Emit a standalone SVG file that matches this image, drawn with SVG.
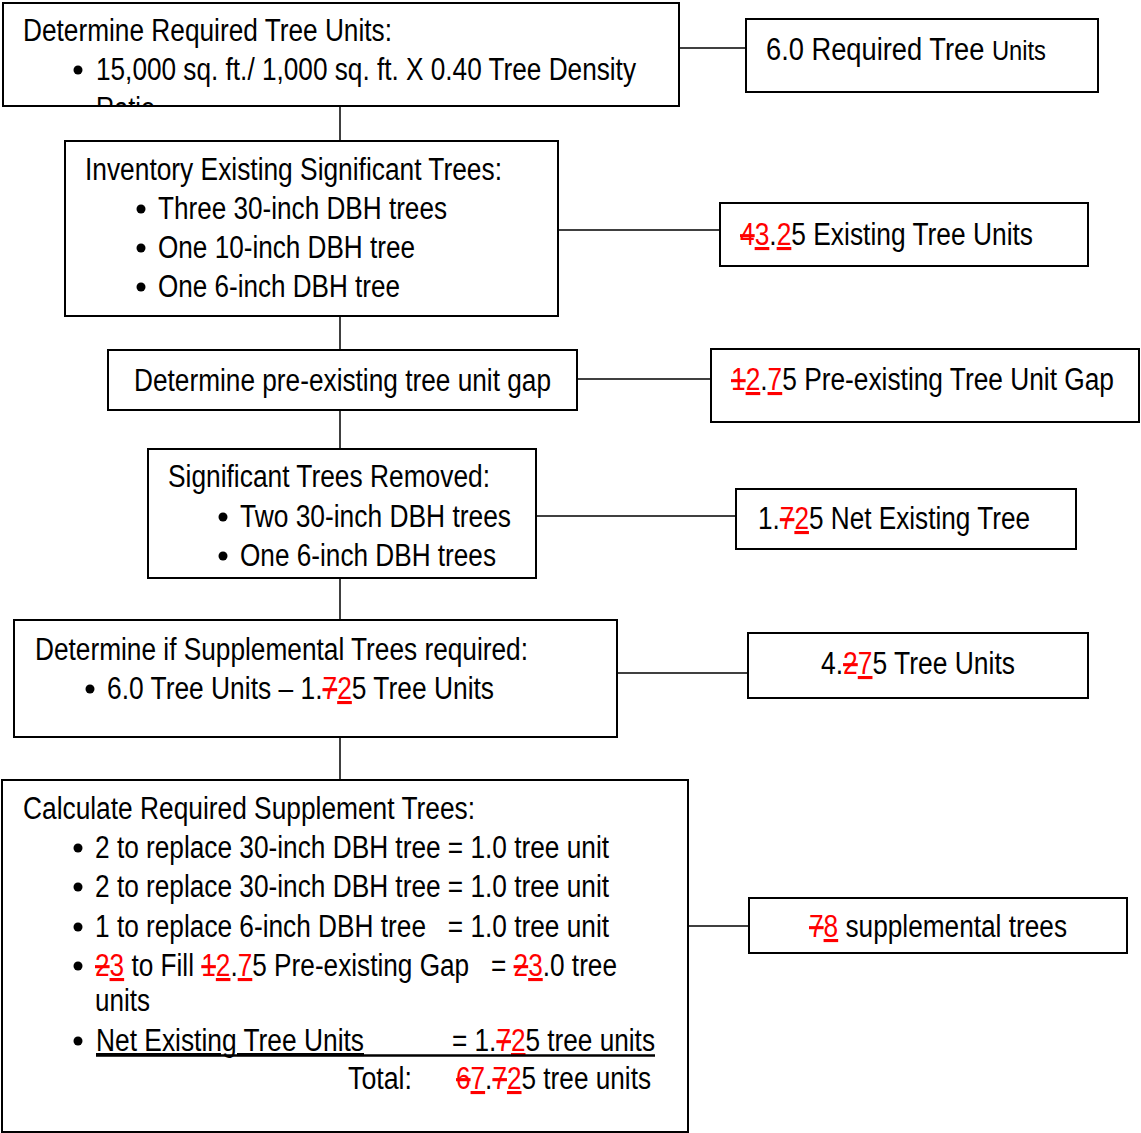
<svg xmlns="http://www.w3.org/2000/svg" width="1141" height="1133" viewBox="0 0 1141 1133">
<style>
.box{fill:#fff;stroke:#000;stroke-width:2}
.conn{stroke:#000;stroke-width:1.5;fill:none}
.dot{fill:#000}
text{font-family:"Liberation Sans Narrow","Arial Narrow","Liberation Sans",sans-serif;font-size:31px;fill:#000}
.del{fill:#f00;text-decoration:line-through}
.ins{fill:#f00;text-decoration:underline}
.ul{text-decoration:underline}
</style>
<defs>
<clipPath id="c1"><rect x="4" y="4" width="674" height="101"/></clipPath>
</defs>
<rect width="1141" height="1133" fill="#fff"/>
<g id="connectors">
<line class="conn" x1="340" y1="106" x2="340" y2="141"/>
<line class="conn" x1="340" y1="316" x2="340" y2="350"/>
<line class="conn" x1="340" y1="410" x2="340" y2="449"/>
<line class="conn" x1="340" y1="578" x2="340" y2="620"/>
<line class="conn" x1="340" y1="737" x2="340" y2="780"/>
<line class="conn" x1="679" y1="48" x2="746" y2="48"/>
<line class="conn" x1="558" y1="230" x2="720" y2="230"/>
<line class="conn" x1="577" y1="379" x2="711" y2="379"/>
<line class="conn" x1="536" y1="516" x2="736" y2="516"/>
<line class="conn" x1="617" y1="673" x2="748" y2="673"/>
<line class="conn" x1="688" y1="926" x2="749" y2="926"/>
</g>
<g id="n1">
<rect class="box" x="3" y="3" width="676" height="103"/>
<text x="23" y="41" textLength="369" lengthAdjust="spacingAndGlyphs">Determine Required Tree Units:</text>
<circle class="dot" cx="78" cy="70" r="4.5"/>
<text x="96" y="80" textLength="540" lengthAdjust="spacingAndGlyphs">15,000 sq. ft./ 1,000 sq. ft. X 0.40 Tree Density</text>
<text x="96" y="119" textLength="59" lengthAdjust="spacingAndGlyphs" clip-path="url(#c1)">Ratio</text>
</g>
<g id="n2">
<rect class="box" x="746" y="19" width="352" height="73"/>
<text x="766" y="60" textLength="280" lengthAdjust="spacingAndGlyphs">6.0 Required Tree <tspan font-size="27">Units</tspan></text>
</g>
<g id="n3">
<rect class="box" x="65" y="141" width="493" height="175"/>
<text x="85" y="180" textLength="417" lengthAdjust="spacingAndGlyphs">Inventory Existing Significant Trees:</text>
<circle class="dot" cx="141" cy="209" r="4.5"/>
<circle class="dot" cx="141" cy="248" r="4.5"/>
<circle class="dot" cx="141" cy="287" r="4.5"/>
<text x="158" y="219" textLength="289" lengthAdjust="spacingAndGlyphs">Three 30-inch DBH trees</text>
<text x="158" y="258" textLength="257" lengthAdjust="spacingAndGlyphs">One 10-inch DBH tree</text>
<text x="158" y="297" textLength="242" lengthAdjust="spacingAndGlyphs">One 6-inch DBH tree</text>
</g>
<g id="n4">
<rect class="box" x="720" y="203" width="368" height="63"/>
<text x="740" y="245" textLength="293" lengthAdjust="spacingAndGlyphs"><tspan class="del">4</tspan><tspan class="ins">3</tspan>.<tspan class="ins">2</tspan>5 Existing Tree Units</text>
</g>
<g id="n5">
<rect class="box" x="108" y="350" width="469" height="60"/>
<text x="134" y="391" textLength="417" lengthAdjust="spacingAndGlyphs">Determine pre-existing tree unit gap</text>
</g>
<g id="n6">
<rect class="box" x="711" y="349" width="428" height="73"/>
<text x="731" y="390" textLength="383" lengthAdjust="spacingAndGlyphs"><tspan class="del">1</tspan><tspan class="ins">2</tspan>.<tspan class="ins">7</tspan>5 Pre-existing Tree Unit Gap</text>
</g>
<g id="n7">
<rect class="box" x="148" y="449" width="388" height="129"/>
<text x="168" y="487" textLength="322" lengthAdjust="spacingAndGlyphs">Significant Trees Removed:</text>
<circle class="dot" cx="223" cy="517" r="4.5"/>
<circle class="dot" cx="223" cy="556" r="4.5"/>
<text x="240" y="527" textLength="271" lengthAdjust="spacingAndGlyphs">Two 30-inch DBH trees</text>
<text x="240" y="566" textLength="256" lengthAdjust="spacingAndGlyphs">One 6-inch DBH trees</text>
</g>
<g id="n8">
<rect class="box" x="736" y="489" width="340" height="60"/>
<text x="758" y="529" textLength="272" lengthAdjust="spacingAndGlyphs">1.<tspan class="del">7</tspan><tspan class="ins">2</tspan>5 Net Existing Tree</text>
</g>
<g id="n9">
<rect class="box" x="14" y="620" width="603" height="117"/>
<text x="35" y="660" textLength="493" lengthAdjust="spacingAndGlyphs">Determine if Supplemental Trees required:</text>
<circle class="dot" cx="90" cy="689" r="4.5"/>
<text x="107" y="699" textLength="387" lengthAdjust="spacingAndGlyphs">6.0 Tree Units – 1.<tspan class="del">7</tspan><tspan class="ins">2</tspan>5 Tree Units</text>
</g>
<g id="n10">
<rect class="box" x="748" y="633" width="340" height="65"/>
<text x="821" y="674" textLength="194" lengthAdjust="spacingAndGlyphs">4.<tspan class="del">2</tspan><tspan class="ins">7</tspan>5 Tree Units</text>
</g>
<g id="n11">
<rect class="box" x="2" y="780" width="686" height="352"/>
<text x="23" y="819" textLength="452" lengthAdjust="spacingAndGlyphs">Calculate Required Supplement Trees:</text>
<circle class="dot" cx="78" cy="848" r="4.5"/>
<circle class="dot" cx="78" cy="887" r="4.5"/>
<circle class="dot" cx="78" cy="927" r="4.5"/>
<circle class="dot" cx="78" cy="966" r="4.5"/>
<circle class="dot" cx="78" cy="1041" r="4.5"/>
<text x="95" y="858" textLength="514" lengthAdjust="spacingAndGlyphs">2 to replace 30-inch DBH tree = 1.0 tree unit</text>
<text x="95" y="897" textLength="514" lengthAdjust="spacingAndGlyphs">2 to replace 30-inch DBH tree = 1.0 tree unit</text>
<text x="95" y="937" textLength="514" lengthAdjust="spacingAndGlyphs" xml:space="preserve">1 to replace 6-inch DBH tree   = 1.0 tree unit</text>
<text x="95" y="976" textLength="522" lengthAdjust="spacingAndGlyphs" xml:space="preserve"><tspan class="del">2</tspan><tspan class="ins">3</tspan> to Fill <tspan class="del">1</tspan><tspan class="ins">2</tspan>.<tspan class="ins">7</tspan>5 Pre-existing Gap   = <tspan class="del">2</tspan><tspan class="ins">3</tspan>.0 tree</text>
<text x="95" y="1011" textLength="55" lengthAdjust="spacingAndGlyphs">units</text>
<text x="96" y="1051" class="ul" textLength="268" lengthAdjust="spacingAndGlyphs">Net Existing Tree Units</text>
<text x="452" y="1051" textLength="203" lengthAdjust="spacingAndGlyphs">= 1.<tspan class="del">7</tspan><tspan class="ins">2</tspan>5 tree units</text>
<line x1="96" y1="1055.5" x2="655" y2="1055.5" stroke="#000" stroke-width="2.5"/>
<text x="348" y="1089" textLength="64" lengthAdjust="spacingAndGlyphs">Total:</text>
<text x="456" y="1089" textLength="195" lengthAdjust="spacingAndGlyphs"><tspan class="del">6</tspan><tspan class="ins">7</tspan>.<tspan class="del">7</tspan><tspan class="ins">2</tspan>5 tree units</text>
</g>
<g id="n12">
<rect class="box" x="749" y="898" width="378" height="55"/>
<text x="809" y="937" textLength="258" lengthAdjust="spacingAndGlyphs"><tspan class="del">7</tspan><tspan class="ins">8</tspan> supplemental trees</text>
</g>
</svg>
